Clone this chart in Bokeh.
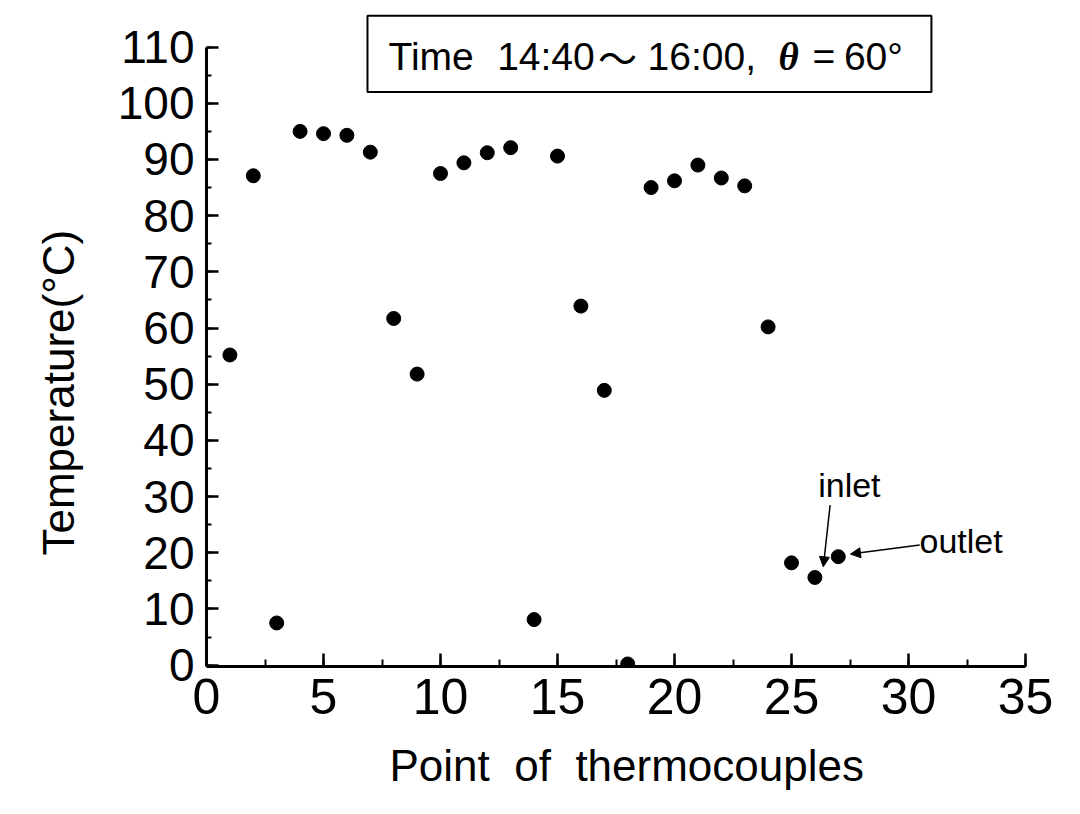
from bokeh.plotting import figure
from bokeh.models import (Label, BoxAnnotation, Arrow, NormalHead,
                          SingleIntervalTicker, Range1d, Title)
from bokeh.embed import file_html
from bokeh.resources import INLINE

# ---- data ----
points = list(range(1, 28))
temps = [55.2, 87.1, 7.5, 95.0, 94.6, 94.3, 91.3, 61.7, 51.8, 87.5,
         89.4, 91.2, 92.1, 8.1, 90.6, 63.9, 48.9, 0.2, 85.0, 86.2,
         89.0, 86.7, 85.3, 60.2, 18.2, 15.6, 19.3]
x_label = "Point\u00a0 of\u00a0 thermocouples"
y_label = "Temperature(\u00b0C)"

SANS = "Liberation Sans"

p = figure(width=1080, height=814, output_backend="svg", toolbar_location=None,
           x_range=Range1d(0, 35), y_range=Range1d(-0.25, 116.16),
           min_border_left=206, min_border_right=55, min_border_top=12,
           min_border_bottom=148)
p.outline_line_color = None
p.grid.visible = False
p.background_fill_color = "white"
p.border_fill_color = "white"

p.scatter(points, temps, size=14, color="black")

# axes
xa = p.xaxis[0]
xa.ticker = SingleIntervalTicker(interval=5, num_minor_ticks=2)
xa.bounds = (0, 35)
ya = p.yaxis[0]
ya.ticker = SingleIntervalTicker(interval=10, num_minor_ticks=2)
ya.bounds = (0, 110)
for ax, tin, min_in, so, fs in ((xa, 13, 7, 12, "50px"), (ya, 12, 5, 12, "46px")):
    ax.axis_line_width = 3
    ax.axis_line_color = "black"
    ax.major_tick_in = tin
    ax.major_tick_out = 0
    ax.minor_tick_in = min_in
    ax.minor_tick_out = 0
    ax.major_tick_line_width = 2.5
    ax.minor_tick_line_width = 2
    ax.major_tick_line_color = "black"
    ax.minor_tick_line_color = "black"
    ax.major_label_text_font = SANS
    ax.major_label_text_font_size = fs
    ax.major_label_text_color = "black"
    ax.major_label_standoff = so

# axis titles
p.add_layout(Title(text=y_label, align="left", offset=111, standoff=63,
                   text_font=SANS, text_font_size="44px",
                   text_font_style="normal", text_color="black"), "left")
p.add_layout(Title(text=x_label, align="left", offset=183, standoff=45,
                   text_font=SANS, text_font_size="44px",
                   text_font_style="normal", text_color="black"), "below")

# header box
p.add_layout(BoxAnnotation(left=6.88, right=30.98, top=115.6, bottom=102.0,
                           fill_alpha=0, line_color="black", line_alpha=1,
                           line_width=2))
hdr_y = 108.4
for txt, x, align, font, style in (
        ("Time", 7.78, "left", SANS, "normal"),
        ("14:40", 12.42, "left", SANS, "normal"),
        ("\uff5e", 17.56, "center", "Noto Sans CJK JP", "normal"),
        ("16:00,", 18.85, "left", SANS, "normal"),
        ("\u03b8", 24.44, "left", "Liberation Serif", "bold italic"),
        ("=", 25.9, "left", SANS, "normal"),
        ("60\u00b0", 27.24, "left", SANS, "normal")):
    p.add_layout(Label(x=x, y=hdr_y, text=txt, text_align=align,
                       text_baseline="alphabetic", text_font=font,
                       text_font_style=style, text_font_size="39px",
                       text_color="black"))

# inlet / outlet annotations
p.add_layout(Label(x=26.14, y=32.09, text="inlet", text_font=SANS,
                   text_font_size="34px", text_baseline="alphabetic",
                   text_color="black"))
p.add_layout(Label(x=30.47, y=22.0, text="outlet", text_font=SANS,
                   text_font_size="34px", text_baseline="alphabetic",
                   text_color="black"))
p.add_layout(Arrow(x_start=26.65, y_start=28.48, x_end=26.36, y_end=17.5,
                   line_width=1.5, line_color="black",
                   end=NormalHead(size=10, fill_color="black", line_color="black")))
p.add_layout(Arrow(x_start=30.48, y_start=21.36, x_end=27.52, y_end=19.76,
                   line_width=1.5, line_color="black",
                   end=NormalHead(size=10, fill_color="black", line_color="black")))

open("out.html", "w").write(file_html(p, INLINE))
